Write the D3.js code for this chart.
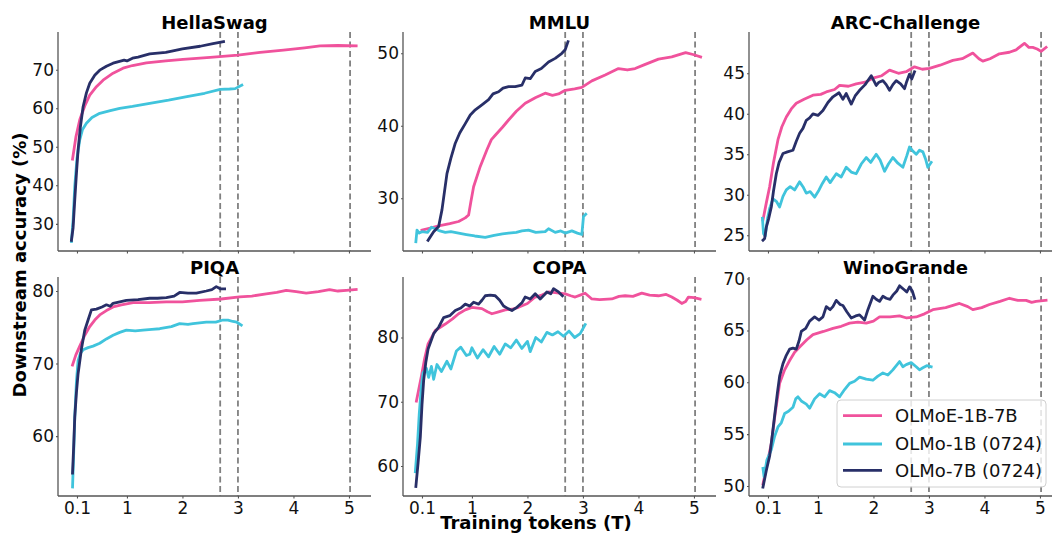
<!DOCTYPE html>
<html>
<head>
<meta charset="utf-8">
<script src="https://cdn.jsdelivr.net/npm/d3@7"></script>
<style>
  html, body { margin: 0; padding: 0; background: #fff; }
  svg { display: block; font-family: "DejaVu Sans", sans-serif; }
</style>
</head>
<body>
<svg id="chart" width="1052" height="537"></svg>
<script>
// ---------------- DATA ----------------
const seriesNames = ["OLMoE-1B-7B", "OLMo-1B (0724)", "OLMo-7B (0724)"];
const xTicks = [0.1, 1, 2, 3, 4, 5];
const xTickLabels = ["0.1", "1", "2", "3", "4", "5"];
const dashX = [2.68, 3.0, 5.02];
const titles = ["HellaSwag", "MMLU", "ARC-Challenge", "PIQA", "COPA", "WinoGrande"];

const hellaswagTicks = [30, 40, 50, 60, 70];
const mmluTicks = [30, 40, 50];
const arcTicks = [25, 30, 35, 40, 45];
const piqaTicks = [60, 70, 80];
const copaTicks = [60, 70, 80];
const winoTicks = [50, 55, 60, 65, 70];

// HellaSwag
const hellaswag_olmoe = [[0.02,46.8],[0.08,52.5],[0.15,57],[0.24,60.6],[0.33,63.4],[0.45,65.6],[0.57,67.3],[0.75,69.1],[0.93,70.4],[1.1,71.1],[1.35,71.8],[1.7,72.3],[2.01,72.7],[2.5,73.2],[3.0,73.8],[3.4,74.5],[3.82,75.1],[4.2,75.7],[4.48,76.2],[4.8,76.3],[5.13,76.2]];
const hellaswag_olmo1b = [[0.0,25.4],[0.03,31],[0.06,39.7],[0.1,47],[0.15,51.8],[0.2,54.5],[0.27,56.1],[0.37,57.6],[0.51,58.7],[0.7,59.4],[0.87,60],[1.1,60.5],[1.41,61.3],[1.75,62.1],[2.08,63],[2.4,63.9],[2.68,64.9],[2.85,65.0],[2.95,65.1],[3.07,66.0]];
const hellaswag_olmo7b = [[0.0,25.7],[0.03,29],[0.06,36.2],[0.09,43],[0.12,49.2],[0.16,55],[0.21,60.4],[0.27,64],[0.33,66.5],[0.42,68.6],[0.51,69.9],[0.63,70.9],[0.75,71.7],[0.95,72.5],[1.0,72.3],[1.1,73.0],[1.2,73.3],[1.41,74.1],[1.7,74.5],[1.83,74.9],[2.0,75.4],[2.32,76.1],[2.55,76.8],[2.74,77.3]];

// MMLU
const mmlu_olmoe = [[0.1,25.6],[0.25,25.9],[0.4,26.2],[0.6,26.5],[0.76,26.8],[0.88,27.3],[0.94,27.7],[0.98,29.5],[1.03,31.6],[1.15,34.4],[1.27,36.7],[1.35,38.1],[1.42,38.7],[1.55,39.8],[1.66,40.8],[1.8,42],[1.96,43.1],[2.15,43.9],[2.32,44.5],[2.45,44.2],[2.56,44.4],[2.68,44.9],[2.85,45.1],[2.98,45.3],[3.16,46.2],[3.4,47],[3.64,47.9],[3.8,47.7],[3.94,47.9],[4.1,48.4],[4.36,49.2],[4.6,49.5],[4.85,50.1],[5.0,49.8],[5.12,49.5]];
const mmlu_olmo1b = [[-0.01,24.0],[0.01,25.6],[0.05,25.2],[0.1,25.4],[0.2,25.3],[0.27,26.0],[0.34,25.8],[0.42,25.5],[0.52,25.3],[0.62,25.4],[0.76,25.2],[0.9,25.0],[1.05,24.8],[1.24,24.6],[1.4,24.9],[1.55,25.1],[1.66,25.2],[1.8,25.3],[1.9,25.5],[2.02,25.6],[2.15,25.3],[2.32,25.4],[2.38,25.8],[2.5,25.3],[2.6,25.5],[2.68,25.2],[2.8,25.5],[2.9,25.2],[2.98,25.0],[3.01,27.5],[3.05,27.8]];
const mmlu_olmo7b = [[0.21,24.2],[0.31,25.4],[0.40,26.1],[0.46,28.4],[0.55,33.4],[0.62,35.5],[0.70,37.6],[0.78,39.0],[0.88,40.3],[0.97,41.5],[1.06,42.2],[1.18,42.9],[1.30,43.6],[1.38,44.4],[1.48,44.7],[1.56,45.2],[1.66,45.4],[1.78,45.4],[1.90,45.6],[1.96,46.6],[2.05,46.5],[2.14,47.5],[2.25,47.9],[2.38,48.8],[2.5,49.3],[2.62,50.0],[2.68,50.5],[2.73,51.6]];

// ARC-Challenge
const arc_olmoe = [[0.01,26.9],[0.07,29],[0.13,31],[0.2,34],[0.28,36.8],[0.35,38.4],[0.43,39.6],[0.52,40.6],[0.61,41.3],[0.75,41.8],[0.91,42.3],[1.05,42.4],[1.15,42.7],[1.3,43.0],[1.39,43.5],[1.55,43.4],[1.69,43.7],[1.85,43.9],[1.99,44.4],[2.15,44.7],[2.29,45.4],[2.45,45.0],[2.59,45.2],[2.74,45.8],[2.88,45.5],[3.01,45.6],[3.2,46.0],[3.43,46.6],[3.6,46.8],[3.79,47.5],[3.9,46.8],[3.97,46.5],[4.1,46.8],[4.27,47.4],[4.45,47.6],[4.57,47.9],[4.72,48.7],[4.8,48.2],[4.87,48.2],[4.95,48.0],[5.02,47.7],[5.11,48.2]];
const arc_olmo1b = [[0.0,27.1],[0.02,25.2],[0.05,24.9],[0.09,27.0],[0.13,28.3],[0.19,29.5],[0.25,29.2],[0.31,28.5],[0.37,29.8],[0.43,30.6],[0.5,31.0],[0.58,30.6],[0.67,31.6],[0.73,31.0],[0.79,30.2],[0.86,30.4],[0.94,29.7],[1.02,30.6],[1.08,31.4],[1.15,32.2],[1.22,31.5],[1.33,32.6],[1.42,32.2],[1.51,33.4],[1.6,32.8],[1.69,32.6],[1.78,33.8],[1.87,34.6],[1.95,34.0],[2.05,35.0],[2.12,34.3],[2.2,32.9],[2.27,33.8],[2.35,34.6],[2.44,33.9],[2.53,33.4],[2.6,34.8],[2.65,35.9],[2.71,35.4],[2.77,35.0],[2.83,35.5],[2.89,35.3],[2.94,34.4],[2.98,33.4],[3.04,34.0]];
const arc_olmo7b = [[0.01,24.4],[0.04,24.6],[0.07,26.0],[0.11,27.0],[0.16,28.5],[0.2,30.5],[0.25,32.6],[0.3,34.0],[0.37,35.1],[0.45,35.3],[0.55,35.5],[0.61,36.6],[0.67,37.6],[0.73,38.2],[0.79,39.2],[0.85,39.5],[0.91,40.0],[1.0,39.8],[1.09,40.4],[1.18,41.4],[1.27,42.1],[1.38,42.6],[1.45,41.8],[1.51,42.5],[1.6,41.2],[1.67,42.2],[1.75,42.9],[1.85,43.6],[1.96,44.7],[2.05,43.5],[2.1,43.9],[2.17,44.1],[2.23,43.6],[2.29,42.9],[2.35,43.6],[2.41,44.1],[2.49,43.7],[2.56,43.1],[2.6,44.0],[2.65,44.9],[2.69,44.3],[2.74,45.2]];

// PIQA
const piqa_olmoe = [[0.02,69.8],[0.08,71.2],[0.15,72.4],[0.24,73.9],[0.33,75.1],[0.42,76.0],[0.51,76.7],[0.63,77.3],[0.75,77.8],[0.9,78.1],[1.11,78.4],[1.4,78.4],[1.71,78.5],[2.0,78.5],[2.31,78.7],[2.7,78.9],[3.03,79.2],[3.25,79.3],[3.51,79.6],[3.7,79.8],[3.87,80.1],[4.05,79.9],[4.23,79.7],[4.45,79.9],[4.65,80.2],[4.8,80.0],[4.95,80.1],[5.13,80.2]];
const piqa_olmo1b = [[0.02,53.0],[0.04,57.5],[0.06,62.6],[0.09,67.5],[0.12,70.4],[0.16,71.4],[0.21,71.9],[0.3,72.2],[0.39,72.4],[0.51,72.8],[0.63,73.4],[0.75,73.9],[0.87,74.3],[0.99,74.6],[1.15,74.5],[1.29,74.6],[1.45,74.7],[1.59,74.8],[1.8,75.1],[1.95,75.5],[2.1,75.4],[2.19,75.5],[2.43,75.7],[2.6,75.7],[2.73,76.0],[2.82,76.0],[2.91,75.8],[2.98,75.7],[3.06,75.3]];
const piqa_olmo7b = [[0.02,54.9],[0.04,58.5],[0.06,62.6],[0.09,66.0],[0.12,68.6],[0.18,72.0],[0.24,74.6],[0.3,76.0],[0.36,77.4],[0.45,77.5],[0.55,77.8],[0.63,78.1],[0.7,77.9],[0.75,78.3],[0.87,78.5],[0.99,78.7],[1.2,78.8],[1.41,79.0],[1.55,79.0],[1.71,79.1],[1.85,79.3],[1.95,79.8],[2.1,79.7],[2.25,79.7],[2.43,80.0],[2.53,80.2],[2.61,80.6],[2.68,80.3],[2.76,80.3]];

// COPA
const copa_olmoe = [[0.0,70.1],[0.09,74.0],[0.15,76.8],[0.21,79.0],[0.34,81.1],[0.52,82.1],[0.65,82.9],[0.76,83.7],[0.88,84.3],[1.0,84.7],[1.18,84.5],[1.28,84.0],[1.36,83.7],[1.48,84.0],[1.6,84.3],[1.72,84.4],[1.84,84.7],[2.0,85.3],[2.14,86.3],[2.26,86.6],[2.38,87.1],[2.5,87.0],[2.68,86.8],[2.78,86.5],[2.86,86.3],[2.95,86.6],[3.04,86.9],[3.16,86.0],[3.3,85.9],[3.52,86.0],[3.65,86.4],[3.76,86.5],[3.9,86.4],[4.06,86.9],[4.2,86.6],[4.36,86.5],[4.5,86.7],[4.6,86.3],[4.7,85.8],[4.78,85.3],[4.85,85.6],[4.9,86.3],[5.0,86.2],[5.11,86.0]];
const copa_olmo1b = [[-0.02,59.1],[0.02,63.5],[0.05,68],[0.09,72.5],[0.12,74.5],[0.18,75.2],[0.22,73.8],[0.27,75.5],[0.31,73.5],[0.37,75.8],[0.45,74.7],[0.55,76.3],[0.62,75.1],[0.72,77.9],[0.8,78.5],[0.9,77.2],[0.96,77.4],[1.0,78.4],[1.1,76.8],[1.2,78.1],[1.3,77.0],[1.4,78.6],[1.5,77.4],[1.6,79.0],[1.7,78.4],[1.8,79.6],[1.9,78.3],[2.0,79.4],[2.05,77.8],[2.15,80.0],[2.25,79.3],[2.35,80.8],[2.45,80.4],[2.55,80.9],[2.65,80.2],[2.75,81.0],[2.85,80.0],[2.95,80.6],[3.04,82.0]];
const copa_olmo7b = [[-0.01,56.8],[0.03,60.5],[0.07,64.5],[0.1,69.5],[0.13,73.3],[0.17,76.2],[0.21,78.2],[0.31,80.6],[0.4,81.6],[0.49,83.1],[0.6,83.4],[0.7,84.2],[0.8,84.6],[0.88,85.2],[0.96,84.9],[1.03,85.5],[1.12,85.2],[1.18,85.8],[1.24,86.5],[1.33,86.6],[1.42,86.5],[1.5,85.8],[1.57,84.9],[1.65,84.5],[1.72,84.2],[1.81,84.7],[1.9,85.4],[1.96,86.3],[2.05,86.0],[2.14,86.8],[2.23,86.0],[2.3,86.6],[2.35,87.1],[2.42,86.8],[2.47,87.6],[2.56,87.1],[2.63,86.5]];

// WinoGrande
const wino_olmoe = [[0.01,50.2],[0.08,52.0],[0.16,54.1],[0.23,57.0],[0.31,59.9],[0.4,61.2],[0.49,62.1],[0.58,62.9],[0.67,63.4],[0.8,64.1],[0.91,64.6],[1.1,64.9],[1.27,65.2],[1.42,65.4],[1.57,65.7],[1.72,65.8],[1.87,65.7],[2.0,65.9],[2.11,66.3],[2.3,66.3],[2.47,66.4],[2.6,66.2],[2.77,66.3],[2.92,66.6],[3.07,67.0],[3.3,67.2],[3.55,67.6],[3.7,67.3],[3.79,67.0],[3.95,67.2],[4.09,67.5],[4.28,67.8],[4.45,68.1],[4.6,67.9],[4.75,67.9],[4.85,67.7],[4.93,67.8],[5.11,67.9]];
const wino_olmo1b = [[0.01,51.7],[0.03,50.9],[0.08,52.5],[0.16,53.5],[0.22,54.8],[0.28,55.7],[0.34,56.1],[0.4,57.0],[0.47,57.2],[0.55,57.6],[0.6,58.4],[0.64,58.6],[0.7,58.2],[0.79,57.9],[0.85,57.5],[0.94,58.4],[1.03,58.9],[1.12,58.6],[1.21,59.2],[1.3,59.0],[1.39,58.6],[1.48,59.3],[1.57,59.9],[1.66,60.1],[1.75,60.5],[1.87,60.3],[1.99,60.2],[2.08,60.6],[2.17,60.9],[2.26,60.7],[2.35,61.2],[2.47,62.0],[2.53,61.5],[2.59,61.7],[2.68,61.9],[2.77,61.5],[2.83,61.2],[2.89,61.4],[2.96,61.6],[3.04,61.5]];
const wino_olmo7b = [[0.01,49.9],[0.07,51.5],[0.13,52.9],[0.18,55.0],[0.22,56.8],[0.27,59.0],[0.31,60.6],[0.37,61.8],[0.43,62.6],[0.49,63.2],[0.55,63.3],[0.61,63.2],[0.66,64.0],[0.7,64.9],[0.78,65.2],[0.85,65.9],[0.94,66.3],[1.02,66.0],[1.09,66.3],[1.15,67.3],[1.22,67.0],[1.27,67.3],[1.33,67.9],[1.4,67.5],[1.45,67.4],[1.52,66.8],[1.6,66.2],[1.68,66.4],[1.75,66.5],[1.84,66.0],[1.9,67.0],[1.99,68.3],[2.05,68.0],[2.11,67.8],[2.17,68.3],[2.23,68.1],[2.3,68.0],[2.35,68.4],[2.42,68.8],[2.47,69.3],[2.56,68.9],[2.6,68.7],[2.65,69.2],[2.7,68.8],[2.74,68.1]];

// ---------------- LAYOUT / STYLE ----------------
const colors = ["#F0529C", "#40C4DC", "#282F68"];
const panels = [
  { title: titles[0], yDomain: [22.95, 79.8], yTicks: hellaswagTicks, data: [hellaswag_olmoe, hellaswag_olmo1b, hellaswag_olmo7b] },
  { title: titles[1], yDomain: [22.73, 52.94], yTicks: mmluTicks, data: [mmlu_olmoe, mmlu_olmo1b, mmlu_olmo7b] },
  { title: titles[2], yDomain: [23.06, 50.1], yTicks: arcTicks, data: [arc_olmoe, arc_olmo1b, arc_olmo7b] },
  { title: titles[3], yDomain: [51.75, 81.93], yTicks: piqaTicks, data: [piqa_olmoe, piqa_olmo1b, piqa_olmo7b] },
  { title: titles[4], yDomain: [55.33, 89.42], yTicks: copaTicks, data: [copa_olmoe, copa_olmo1b, copa_olmo7b] },
  { title: titles[5], yDomain: [49.04, 70.15], yTicks: winoTicks, data: [wino_olmoe, wino_olmo1b, wino_olmo7b] }
];
const colLeft = [58, 403, 749];
const rowTop = [32, 277];
const pw = 313, ph = 219;
const xDomain = [-0.242, 5.397];

const svg = d3.select("#chart");

panels.forEach((p, i) => {
  const col = i % 3, row = Math.floor(i / 3);
  const g = svg.append("g").attr("transform", `translate(${colLeft[col]},${rowTop[row]})`);
  const x = d3.scaleLinear().domain(xDomain).range([0, pw]);
  const y = d3.scaleLinear().domain(p.yDomain).range([ph, 0]);

  g.selectAll("line.dash").data(dashX).join("line")
    .attr("x1", d => x(d)).attr("x2", d => x(d))
    .attr("y1", 0).attr("y2", ph)
    .attr("stroke", "#808080").attr("stroke-width", 1.8)
    .attr("stroke-dasharray", "6,3.5");

  const line = d3.line().x(d => x(d[0])).y(d => y(d[1]));
  p.data.forEach((s, k) => {
    g.append("path").datum(s)
      .attr("d", line)
      .attr("fill", "none")
      .attr("stroke", colors[k])
      .attr("stroke-width", 2.8)
      .attr("stroke-linejoin", "round")
      .attr("stroke-linecap", "square");
  });

  const xAxis = d3.axisBottom(x).tickValues(xTicks).tickSize(2.5).tickPadding(3)
    .tickFormat((d, j) => row === 1 ? xTickLabels[j] : "");
  const gx = g.append("g").attr("transform", `translate(0,${ph})`).call(xAxis);
  const yAxis = d3.axisLeft(y).tickValues(p.yTicks).tickSize(2).tickPadding(2).tickFormat(d3.format("d"));
  const gy = g.append("g").call(yAxis);
  [gx, gy].forEach(a => {
    a.select(".domain").attr("stroke", "#555").attr("stroke-width", 1.3);
    a.selectAll(".tick line").attr("stroke", "#555").attr("stroke-width", 1.1);
    a.selectAll(".tick text").attr("font-size", 17).attr("fill", "#111")
      .attr("font-family", "DejaVu Sans");
  });
  gx.select(".domain").attr("d", `M0,0H${pw}`);
  gy.select(".domain").attr("d", `M0,0V${ph}`);

  g.append("text").attr("x", pw / 2).attr("y", -3.5)
    .attr("text-anchor", "middle").attr("font-size", 18).attr("font-weight", "bold")
    .attr("fill", "#000").text(p.title);
});

svg.append("text")
  .attr("transform", "translate(26,265) rotate(-90)")
  .attr("text-anchor", "middle").attr("font-size", 18).attr("font-weight", "bold")
  .text("Downstream accuracy (%)");
svg.append("text")
  .attr("x", 536).attr("y", 529)
  .attr("text-anchor", "middle").attr("font-size", 18).attr("font-weight", "bold")
  .text("Training tokens (T)");

const lg = svg.append("g");
lg.append("rect").attr("x", 837).attr("y", 400).attr("width", 209).attr("height", 87)
  .attr("rx", 4).attr("fill", "#fff").attr("fill-opacity", 0.8)
  .attr("stroke", "#d0d0d0").attr("stroke-width", 1);
const legendY = [415.7, 444, 470.3];
seriesNames.forEach((n, k) => {
  lg.append("line").attr("x1", 843).attr("x2", 882).attr("y1", legendY[k]).attr("y2", legendY[k])
    .attr("stroke", colors[k]).attr("stroke-width", 2.8);
  lg.append("text").attr("x", 895).attr("y", legendY[k]).attr("dy", "0.35em")
    .attr("font-size", 18).attr("fill", "#111").text(n);
});
</script>
</body>
</html>
